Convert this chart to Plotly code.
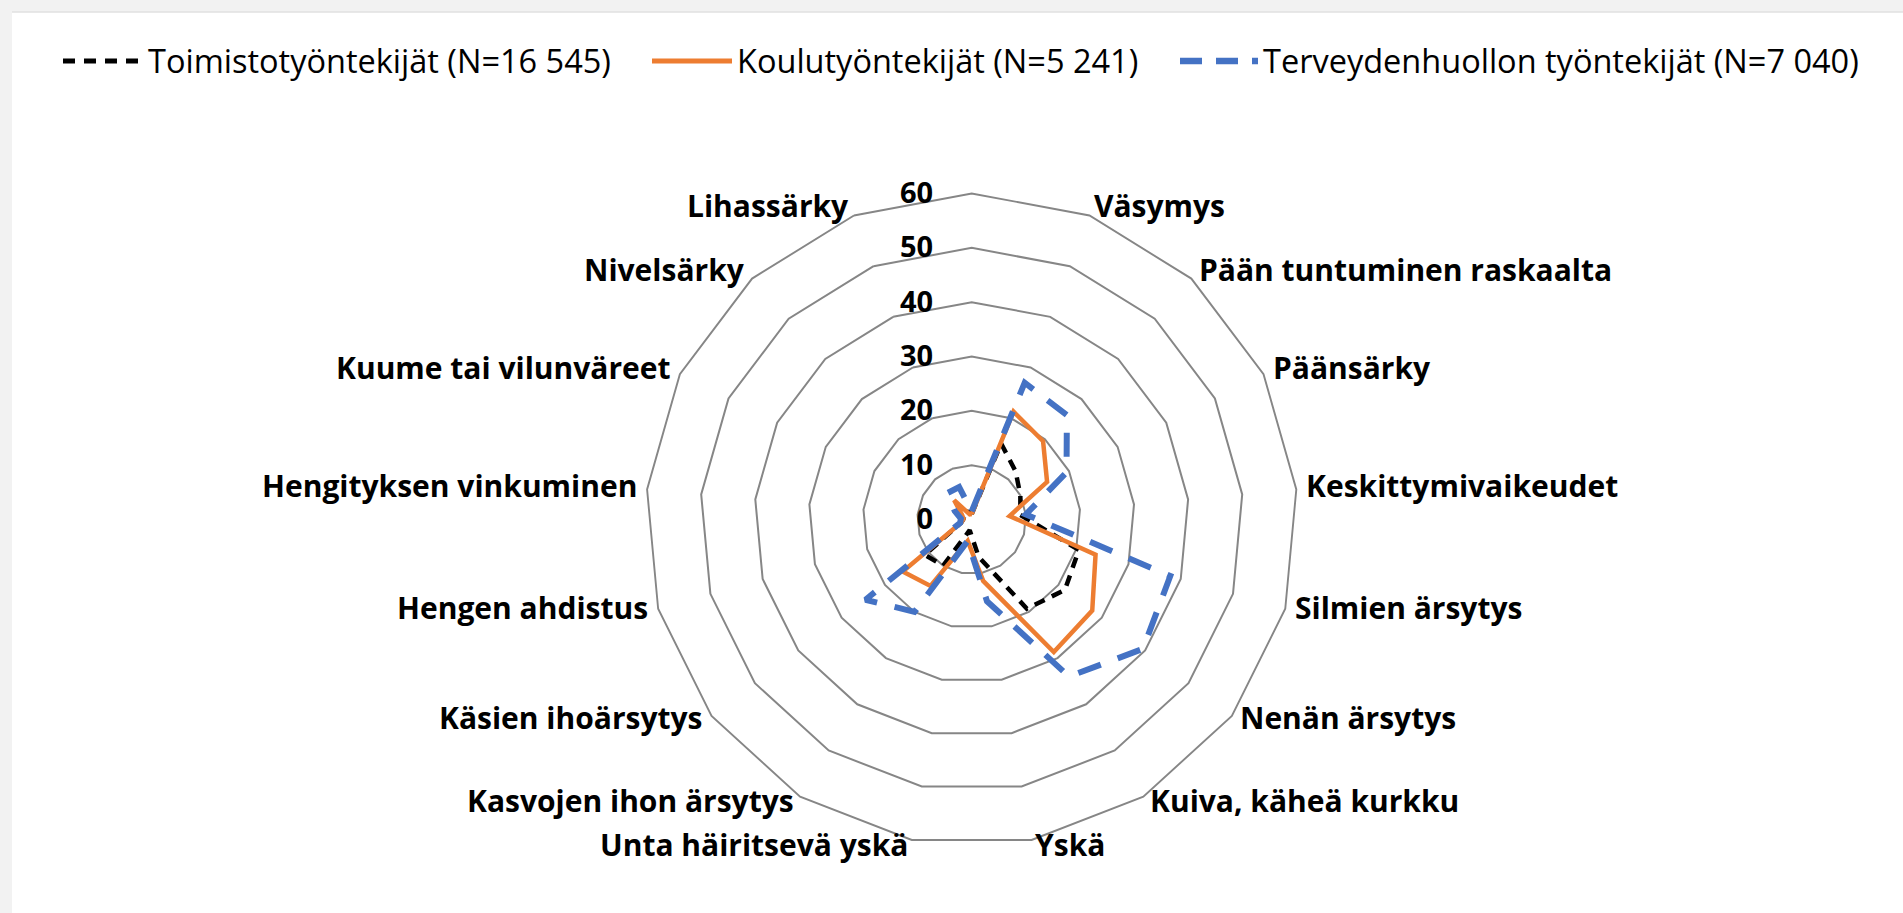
import math
import plotly.graph_objects as go

W, H = 1903, 913

categories = ["", "Väsymys", "Pään tuntuminen raskaalta", "Päänsärky", "Keskittymivaikeudet",
              "Silmien ärsytys", "Nenän ärsytys", "Kuiva, käheä kurkku", "Yskä",
              "Unta häiritsevä yskä", "Kasvojen ihon ärsytys", "Käsien ihoärsytys",
              "Hengen ahdistus", "Hengityksen vinkuminen", "Kuume tai vilunväreet",
              "Nivelsärky", "Lihassärky"]

toimisto = [1, 15, 12, 10, 9, 20.5, 21.5, 19.3, 7, 2, 10, 10.8, 2, 1.5, 1.5, 2, 1.5]
koulu = [1, 21.3, 19.5, 15.5, 7, 23.7, 27.8, 28.7, 11.5, 4, 14.4, 15.9, 2, 1.5, 2, 4.8, 1]
terveys = [1.5, 27, 26, 19.5, 10, 38, 39.5, 34, 15.3, 4, 20, 24.5, 2.2, 2, 3.5, 6.6, 6.4]

series_names = ["Toimistotyöntekijät (N=16 545)", "Koulutyöntekijät (N=5 241)",
                "Terveydenhuollon työntekijät (N=7 040)"]
series_colors = ["#000000", "#ED7D31", "#4472C4"]
series_widths = [4.5, 4.5, 6]
series_dashes = ["11px,8px", "solid", "24px,18px"]

radial_ticks = [0, 10, 20, 30, 40, 50, 60]

FONT = "Open Sans, sans-serif"


def closed(vals):
    return list(vals) + [vals[0]]


fig = go.Figure()
for name, vals, col, wd, ds in zip(series_names, [toimisto, koulu, terveys],
                                    series_colors, series_widths, series_dashes):
    fig.add_trace(go.Scatterpolar(
        r=closed(vals), theta=closed(categories), mode="lines", name=name,
        showlegend=False, line=dict(color=col, width=wd, dash=ds)))

# polar geometry (pixels)
cx, cy, R = 971.7, 519.5, 326.0
dom_x = [(cx - R) / W, (cx + R) / W]
dom_y = [1 - (cy + R) / H, 1 - (cy - R) / H]

# category labels placed just outside each polygon vertex
annotations = []
n = len(categories)
for i, lab in enumerate(categories):
    if not lab:
        continue
    a = math.radians(360.0 * i / n)
    s, c = math.sin(a), math.cos(a)
    vx, vy = cx + R * s, cy - R * c
    off = 8
    px, py = vx + off * s, vy - off * c - 3
    annotations.append(dict(
        x=px / W, y=1 - py / H, xref="paper", yref="paper", text=lab, showarrow=False,
        xanchor="left" if s > 0 else "right", yanchor="middle",
        font=dict(size=30, weight="bold", color="#000000", family=FONT)))

# legend (drawn manually to match the Excel legend layout)
leg_y = 1 - 61 / H
leg_items = [(63, 143, 146), (652, 732, 735), (1180, 1258, 1261)]
shapes = [
    dict(type="rect", xref="paper", yref="paper", x0=12 / W, x1=1, y0=0, y1=1 - 12 / H,
         fillcolor="white", line=dict(width=0), layer="below"),
    dict(type="line", xref="paper", yref="paper", x0=12 / W, x1=1, y0=1 - 12 / H, y1=1 - 12 / H,
         line=dict(color="#e0e0e0", width=1.5), layer="below"),
]
leg_dashes = ["12px,9px", "solid", "22px,14px"]
for (x0, x1, tx), name, col, wd, ds in zip(leg_items, series_names, series_colors,
                                           series_widths, leg_dashes):
    shapes.append(dict(type="line", xref="paper", yref="paper", x0=x0 / W, x1=x1 / W,
                       y0=leg_y, y1=leg_y, line=dict(color=col, width=wd + 0.5, dash=ds)))
    annotations.append(dict(x=tx / W, y=leg_y, xref="paper", yref="paper", text=name,
                            showarrow=False, xanchor="left", yanchor="middle",
                            font=dict(size=32.5, color="#000000", family=FONT)))

fig.update_layout(
    width=W, height=H,
    margin=dict(l=0, r=0, t=0, b=0, autoexpand=False),
    paper_bgcolor="#f2f2f2",
    plot_bgcolor="white",
    font=dict(family=FONT, color="#000000"),
    showlegend=False,
    polar=dict(
        domain=dict(x=dom_x, y=dom_y),
        bgcolor="rgba(0,0,0,0)",
        gridshape="linear",
        radialaxis=dict(range=[0, 60], tickvals=radial_ticks, showline=False,
                        ticks="outside", ticklen=28, tickcolor="rgba(0,0,0,0)",
                        angle=90, side="counterclockwise", tickangle=90,
                        gridcolor="#868686", gridwidth=1.9,
                        tickfont=dict(size=29, weight="bold", color="#000000", family=FONT)),
        angularaxis=dict(rotation=90, direction="clockwise", showgrid=False,
                         showticklabels=False,
                         showline=True, linecolor="#868686", linewidth=1.9, ticks=""),
    ),
    shapes=shapes,
    annotations=annotations,
)

fig.write_html("out.html", config={"displayModeBar": False},
               post_script="document.body.style.margin='0';")
